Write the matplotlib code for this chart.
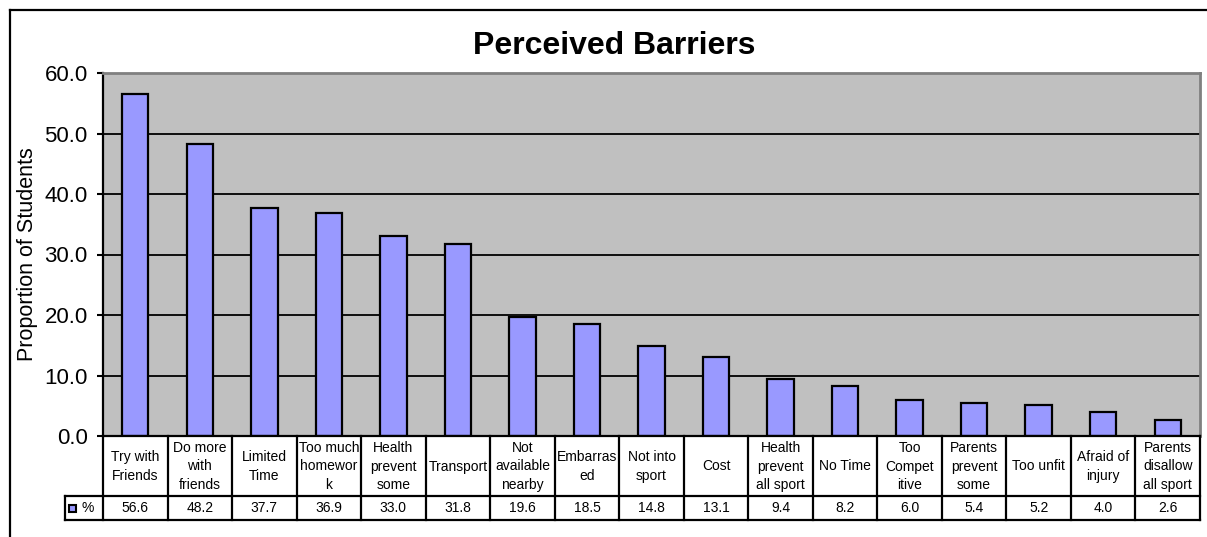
import matplotlib
matplotlib.use("Agg")
import matplotlib.pyplot as plt
from matplotlib.lines import Line2D
from matplotlib.patches import Rectangle

# ---- data ----
categories = [
    "Try with\nFriends", "Do more\nwith\nfriends", "Limited\nTime",
    "Too much\nhomewor\nk", "Health\nprevent\nsome", "Transport",
    "Not\navailable\nnearby", "Embarras\ned", "Not into\nsport", "Cost",
    "Health\nprevent\nall sport", "No Time", "Too\nCompet\nitive",
    "Parents\nprevent\nsome", "Too unfit", "Afraid of\ninjury",
    "Parents\ndisallow\nall sport",
]
percent = [56.6, 48.2, 37.7, 36.9, 33.0, 31.8, 19.6, 18.5, 14.8, 13.1,
           9.4, 8.2, 6.0, 5.4, 5.2, 4.0, 2.6]
series_name = "%"
y_ticks = [0, 10, 20, 30, 40, 50, 60]
title = "Perceived Barriers"
y_label = "Proportion of Students"

# ---- style ----
plt.rcParams["font.family"] = ["Liberation Sans", "DejaVu Sans"]
W, H = 1207, 537
BAR_COLOR = "#9999FF"
PLOT_BG = "#C0C0C0"
TABLE_FS = 10


def fx(px):
    return px / W


def fy(py):
    return 1 - py / H


fig = plt.figure(figsize=(W / 100, H / 100), dpi=100)
fig.patch.set_facecolor("white")

# chart-area frame (left and top edges)
fig.add_artist(Line2D([fx(10), fx(10)], [fy(10), 0], color="black", lw=1.6))
fig.add_artist(Line2D([fx(10), 1], [fy(10), fy(10)], color="black", lw=1.6))

# ---- plot area ----
left, right, top, bottom = 103, 1200, 73, 436
ax = fig.add_axes([fx(left), fy(bottom), fx(right - left), (bottom - top) / H])
ax.set_facecolor(PLOT_BG)
n = len(percent)
xs = list(range(n))
ax.bar(xs, percent, width=0.41, color=BAR_COLOR, edgecolor="black",
       linewidth=1.6, zorder=3)
ax.set_xlim(-0.5, n - 0.5)
ax.set_ylim(y_ticks[0], y_ticks[-1])
ax.set_yticks(y_ticks)
ax.set_yticklabels([f"{v:.1f}" for v in y_ticks])
for v in y_ticks[1:-1]:
    ax.axhline(v, color="black", lw=1.3, zorder=1)
ax.set_xticks([])
ax.tick_params(axis="y", direction="out", length=4.5, width=1.5,
               labelsize=16, pad=6.5, colors="black")
for side in ("left", "bottom"):
    ax.spines[side].set_color("black")
    ax.spines[side].set_linewidth(1.6)
for side in ("top", "right"):
    ax.spines[side].set_color("#808080")
    ax.spines[side].set_linewidth(2.0)
ax.spines["bottom"].set_zorder(5)

fig.text(fx(614), fy(46), title, ha="center", va="center",
         fontsize=23, fontweight="bold")
fig.text(fx(28), fy((top + bottom) / 2), y_label, rotation=90,
         ha="center", va="center", fontsize=15.5)

# ---- data table below the plot ----
tbl_left, tbl_mid, tbl_bot = 65, 496, 520
col_w = (right - left) / n
ext = (left - tbl_left) / col_w
tax = fig.add_axes([fx(tbl_left), fy(tbl_bot), fx(right - tbl_left),
                    (tbl_bot - bottom) / H])
tax.set_xlim(-0.5 - ext, n - 0.5)
tax.set_ylim(tbl_bot - bottom, 0)
tax.axis("off")
hdr_h = tbl_mid - bottom
row_h = tbl_bot - tbl_mid
lw_t = 1.6
for i in range(n + 1):
    tax.plot([i - 0.5, i - 0.5], [0, hdr_h + row_h], color="black",
             lw=lw_t, clip_on=False, solid_capstyle="projecting")
tax.plot([-0.5 - ext, n - 0.5], [hdr_h, hdr_h], color="black", lw=lw_t,
         clip_on=False, solid_capstyle="projecting")
tax.plot([-0.5 - ext, n - 0.5], [hdr_h + row_h, hdr_h + row_h],
         color="black", lw=lw_t, clip_on=False, solid_capstyle="projecting")
tax.plot([-0.5 - ext, -0.5 - ext], [hdr_h, hdr_h + row_h], color="black",
         lw=lw_t, clip_on=False, solid_capstyle="projecting")

for i, (cat, val) in enumerate(zip(categories, percent)):
    tax.text(i, hdr_h / 2 + 0.5, cat, ha="center", va="center",
             fontsize=TABLE_FS, linespacing=1.45)
    tax.text(i, hdr_h + row_h / 2 + 0.5, f"{val:.1f}", ha="center",
             va="center", fontsize=TABLE_FS)

# legend key in the row header
key_w = 7 / col_w
tax.add_patch(Rectangle((-0.5 - ext + 4 / col_w, hdr_h + 9), key_w, 7,
                        facecolor=BAR_COLOR, edgecolor="black", lw=1.5,
                        clip_on=False))
tax.text(-0.5 - ext + 17 / col_w, hdr_h + row_h / 2 + 0.5, series_name,
         ha="left", va="center", fontsize=TABLE_FS)

fig.savefig("out.png", dpi=100)
